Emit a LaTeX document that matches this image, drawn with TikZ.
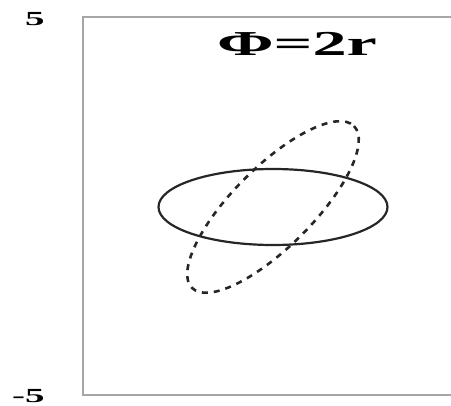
\documentclass[tikz,border=0pt]{standalone}
\usepackage{fontspec}
\setmainfont{Liberation Serif}
\tikzset{
  % --- frame and labels ------------------------------------------------------
  frame/.style={draw=black!35,line width=1.4pt},
  ticklab/.style={font=\bfseries\fontsize{20}{20}\selectfont,inner sep=0pt,
                  xscale=1.95},
  titlelab/.style={font=\bfseries\fontsize{35}{35}\selectfont,inner sep=0pt,
                   xscale=1.95},
  % --- the two orbits --------------------------------------------------------
  orbit/.style={draw=black!85,line width=2.2pt},
  orbitrot/.style={orbit,line width=2.6pt,dash pattern=on 6pt off 6pt},
}

\begin{document}
\begin{tikzpicture}[x=1pt, y=-1pt]
  \useasboundingbox (0,0) rectangle (451,406);
  \coordinate (tl) at (83,17);
  \coordinate (bl) at (83,395);
  \coordinate (tr) at (451,17);
  \coordinate (br) at (451,395);
  \coordinate (c)  at (273,207);

  \draw[frame] (tr) -- (tl) -- (bl) -- (br);
  \node[ticklab,anchor=east] (ytop) at (45,19)  {5};
  \node[ticklab,anchor=east] (ybot) at (45,396) {-5};
  \node[titlelab] (title) at (297,44) {Φ=2r};

  % circle-like orbit and its rotated copy
  \draw[orbit]    (c) ellipse [x radius=114.5, y radius=38];
  \draw[orbitrot,rotate around={45:(c)}] (c) ellipse [x radius=114.5, y radius=40];
\end{tikzpicture}
\end{document}
